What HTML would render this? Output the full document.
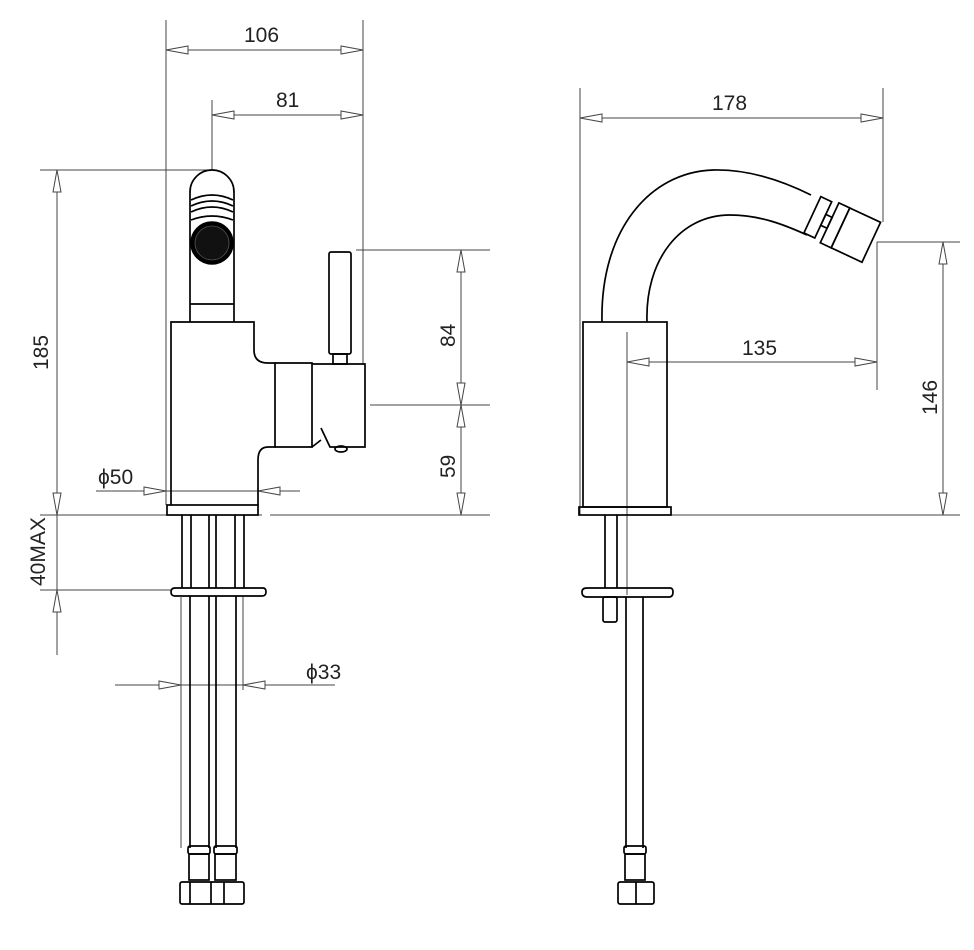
<!DOCTYPE html>
<html><head><meta charset="utf-8"><style>
html,body{margin:0;padding:0;background:#fff}
svg{display:block}
.d{stroke:#444;stroke-width:1;fill:none}
.a{stroke:#444;stroke-width:1;fill:#fff}
.p{stroke:#000;stroke-width:1.7;fill:none}
.t{font-family:"Liberation Sans",sans-serif;font-size:21px;fill:#222}
</style></head><body>
<svg width="974" height="950" viewBox="0 0 974 950" xmlns="http://www.w3.org/2000/svg">
<!-- LEFT VIEW dimensions -->
<g class="d">
<line x1="166" y1="20" x2="166" y2="505"/>
<line x1="363" y1="20" x2="363" y2="364"/>
<line x1="166" y1="50" x2="363" y2="50"/>
<line x1="212" y1="100" x2="212" y2="170"/>
<line x1="212" y1="115" x2="363" y2="115"/>
<line x1="40" y1="170" x2="212" y2="170"/>
<line x1="57" y1="170" x2="57" y2="655"/>
<line x1="40" y1="515" x2="262" y2="515"/>
<line x1="270" y1="515" x2="490" y2="515"/>
<line x1="40" y1="590" x2="172" y2="590"/>
<line x1="356" y1="250" x2="490" y2="250"/>
<line x1="370" y1="405" x2="490" y2="405"/>
<line x1="461" y1="250" x2="461" y2="515"/>
<line x1="96" y1="491" x2="300" y2="491"/>
<line x1="258" y1="460" x2="258" y2="497"/>
<line x1="115" y1="685" x2="335" y2="685"/>
<line x1="181" y1="597" x2="181" y2="690"/>
<line x1="243" y1="597" x2="243" y2="690"/>
</g>
<g class="a">
<polygon points="166,50 188,46 188,54"/><polygon points="363,50 341,46 341,54"/>
<polygon points="212,115 234,111 234,119"/><polygon points="363,115 341,111 341,119"/>
<polygon points="57,170 53,192 61,192"/><polygon points="57,515 53,493 61,493"/>
<polygon points="57,590 53,612 61,612"/>
<polygon points="461,250 457,272 465,272"/><polygon points="461,405 457,383 465,383"/>
<polygon points="461,405 457,427 465,427"/><polygon points="461,515 457,493 465,493"/>
<polygon points="166,491 144,487 144,495"/><polygon points="258,491 280,487 280,495"/>
<polygon points="181,685 159,681 159,689"/><polygon points="243,685 265,681 265,689"/>
</g>
<text class="t" x="244" y="42">106</text>
<text class="t" x="276" y="107">81</text>
<text class="t" x="98" y="484">ϕ50</text>
<text class="t" x="306" y="679">ϕ33</text>
<text class="t" transform="translate(48,370) rotate(-90)">185</text>
<text class="t" transform="translate(455,347) rotate(-90)">84</text>
<text class="t" transform="translate(455,478) rotate(-90)">59</text>
<text class="t" transform="translate(45,586) rotate(-90)">40MAX</text>

<!-- LEFT VIEW part -->
<g class="p">
<path d="M190,322 V192 A22,22 0 0 1 234,192 V322"/>
<line x1="190" y1="304" x2="234" y2="304"/>
<path d="M191,200 Q212,190 233,200 M191,206 Q212,196 233,206 M191,212 Q212,202 233,212 M191,220 Q212,212 233,220"/>
<path d="M171,505 V322 H254 V350 Q254,363 268,363 H275 V447 H268 Q258,447 258,460 V505"/>
<rect x="167" y="505" width="91" height="10"/>
<path d="M275,363 H312 V447 H275"/>
<path d="M312,364 H365 V447 H330 L321,428"/>
<path d="M312,447 L321,440"/>
<ellipse cx="341" cy="449" rx="6" ry="3"/>
<rect x="329" y="252" width="22" height="102" rx="2"/>
<rect x="333" y="354" width="14" height="10"/>
<!-- below deck -->
<line x1="182" y1="515" x2="182" y2="588"/><line x1="191" y1="515" x2="191" y2="588"/>
<line x1="209" y1="515" x2="209" y2="588"/><line x1="216" y1="515" x2="216" y2="588"/>
<line x1="235" y1="515" x2="235" y2="588"/><line x1="244" y1="515" x2="244" y2="588"/>
<path d="M175,588 H263 Q266,588 266,592 Q266,596 262,596 H175 Q171,596 171,592 Q171,588 175,588 Z"/>
<line x1="236" y1="596" x2="236" y2="620"/>
<line x1="190" y1="596" x2="190" y2="848"/>
<line x1="209" y1="596" x2="209" y2="848"/><line x1="216" y1="596" x2="216" y2="848"/>
<line x1="236" y1="620" x2="236" y2="848"/>
<rect x="188" y="846" width="22" height="8" rx="2"/><rect x="214" y="846" width="23" height="8" rx="2"/>
<rect x="189" y="854" width="20" height="26"/><rect x="215" y="854" width="21" height="26"/>
<rect x="180" y="882" width="64" height="22" rx="2"/>
<line x1="190" y1="882" x2="190" y2="904"/><line x1="211" y1="882" x2="211" y2="904"/><line x1="224" y1="882" x2="224" y2="904"/>
</g>
<circle cx="212" cy="243" r="21" fill="#000" stroke="#000" stroke-width="1.5"/>
<circle cx="212" cy="243" r="17" fill="#111" stroke="#555" stroke-width="0.8"/>
<line x1="181" y1="596" x2="181" y2="848" class="d"/>

<!-- RIGHT VIEW dimensions -->
<g class="d">
<line x1="580" y1="88" x2="580" y2="515"/>
<line x1="883" y1="88" x2="883" y2="222"/>
<line x1="580" y1="118" x2="883" y2="118"/>
<line x1="627" y1="332" x2="627" y2="595"/>
<line x1="877" y1="242" x2="877" y2="390"/>
<line x1="627" y1="362" x2="877" y2="362"/>
<line x1="877" y1="242" x2="960" y2="242"/>
<line x1="666" y1="515" x2="960" y2="515"/>
<line x1="943" y1="242" x2="943" y2="515"/>
</g>
<g class="a">
<polygon points="580,118 602,114 602,122"/><polygon points="883,118 861,114 861,122"/>
<polygon points="627,362 649,358 649,366"/><polygon points="877,362 855,358 855,366"/>
<polygon points="943,242 939,264 947,264"/><polygon points="943,515 939,493 947,493"/>
</g>
<text class="t" x="712" y="110">178</text>
<text class="t" x="742" y="355">135</text>
<text class="t" transform="translate(937,415) rotate(-90)">146</text>

<!-- RIGHT VIEW part -->
<g class="p">
<rect x="583" y="322" width="84" height="185"/>
<rect x="579" y="507" width="92" height="8"/>
<path d="M602,322 C600,230 650,172 713,170 C750,169 785,182 811,195"/>
<path d="M647,322 C645,260 680,215 730,215 C760,215 785,225 807,235"/>
<g transform="translate(845,230) rotate(25)">
<rect x="-36" y="-20" width="12" height="40"/>
<rect x="-24" y="-6" width="7" height="12"/>
<rect x="-17" y="-22" width="12" height="44"/>
<rect x="-5" y="-22" width="34" height="44"/>
</g>
<line x1="605" y1="515" x2="605" y2="588"/><line x1="617" y1="515" x2="617" y2="588"/>
<path d="M587,588 H670 Q673,588 673,592 Q673,597 669,597 H587 Q582,597 582,592 Q582,588 587,588 Z"/>
<rect x="603" y="597" width="14" height="25" rx="2"/>
<line x1="626" y1="597" x2="626" y2="848"/><line x1="643" y1="597" x2="643" y2="848"/>
<rect x="624" y="846" width="22" height="8" rx="2"/>
<rect x="625" y="854" width="20" height="26"/>
<rect x="618" y="882" width="36" height="22" rx="2"/>
<line x1="636" y1="882" x2="636" y2="904"/>
</g>
</svg>
</body></html>
